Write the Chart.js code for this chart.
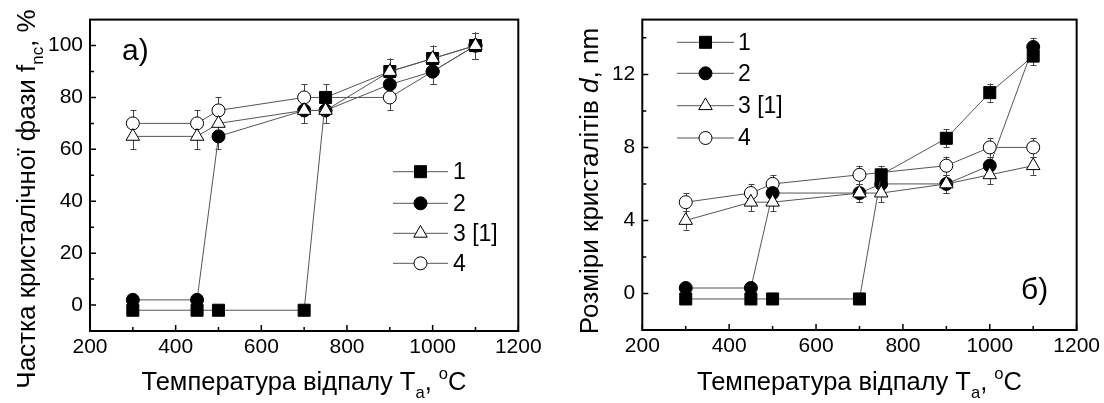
<!DOCTYPE html>
<html>
<head>
<meta charset="utf-8">
<script src="https://cdn.jsdelivr.net/npm/chart.js@4.4.0/dist/chart.umd.min.js"></script>
<style>
  html, body { margin: 0; padding: 0; background: #fff; }
  #wrap { position: relative; width: 1104px; height: 403px; overflow: hidden; }
  #boxA { position: absolute; left: 0; top: 0; width: 560px; height: 403px; }
  #boxB { position: absolute; left: 560px; top: 0; width: 544px; height: 403px; }
</style>
</head>
<body>
<div id="wrap">
  <div id="boxA"><canvas id="chartA" width="560" height="403"></canvas></div>
  <div id="boxB"><canvas id="chartB" width="544" height="403"></canvas></div>
</div>
<script>
// температури відпалу, спільні для всіх серій
const temps = [300, 450, 500, 700, 750, 900, 1000, 1100];
const seriesNames = ['1', '2', '3 [1]', '4'];

// а) частка кристалічної фази, %
const fracS1 = [-2, -2, -2, -2, 80, 90, 95, 100];
const fracS2 = [2, 2, 65, 75, 75, 85, 90, 100];
const fracS3 = [65, 65, 70, 75, 75, 90, 95, 100];
const fracS4 = [70, 70, 75, 80, null, 80, 90, 100];
const fracErr1 = [0, 0, 0, 0, 5, 5, 5, 5];
const fracErr2 = [0, 0, 5, 5, 5, 5, 5, 5];
const fracErr3 = [5, 5, 5, 5, 5, 5, 5, 5];
const fracErr4 = [5, 5, 5, 5, 0, 5, 5, 5];

// б) розміри кристалітів, nm
const sizeS1 = [-0.3, -0.3, -0.3, -0.3, 6.5, 8.5, 11, 13];
const sizeS2 = [0.3, 0.3, 5.5, 5.5, 6, 6, 7, 13.5];
const sizeS3 = [4, 5, 5, 5.5, 5.5, 6, 6.5, 7];
const sizeS4 = [5, 5.5, 6, 6.5, null, 7, 8, 8];
const sizeErr1 = [0, 0, 0, 0, 0.5, 0.5, 0.5, 0.5];
const sizeErr2 = [0, 0, 0.5, 0.5, 0.5, 0.5, 0.5, 0.5];
const sizeErr3 = [0.5, 0.5, 0.5, 0.5, 0.5, 0.5, 0.5, 0.5];
const sizeErr4 = [0.5, 0.5, 0.5, 0.5, 0, 0.5, 0.5, 0.5];

// мітки осей
const xTicks = [200, 400, 600, 800, 1000, 1200];
const xMinor = [300, 500, 700, 900, 1100];
const fracTicks = [0, 20, 40, 60, 80, 100];
const fracMinor = [10, 30, 50, 70, 90];
const sizeTicks = [0, 4, 8, 12];
const sizeMinor = [2, 6, 10, 14];

const FONT = '"Liberation Sans", Arial, sans-serif';
const LINE = '#555';

// вигляд маркерів для серій 1..4
const markers = [
  { style: 'rect', r: 8.5, fill: '#000', order: 1 },
  { style: 'circle', r: 6.5, fill: '#000', order: 2 },
  { style: 'triangle', r: 7.8, fill: '#fff', order: 0 },
  { style: 'circle', r: 6.5, fill: '#fff', order: 3 }
];

function drawMarker(ctx, m, x, y) {
  ctx.beginPath();
  if (m.style === 'rect') {
    const s = Math.SQRT1_2 * m.r;
    ctx.rect(x - s, y - s, 2 * s, 2 * s);
  } else if (m.style === 'triangle') {
    let a = 0;
    ctx.moveTo(x + Math.sin(a) * m.r, y - Math.cos(a) * m.r);
    a += 2 * Math.PI / 3;
    ctx.lineTo(x + Math.sin(a) * m.r, y - Math.cos(a) * m.r);
    a += 2 * Math.PI / 3;
    ctx.lineTo(x + Math.sin(a) * m.r, y - Math.cos(a) * m.r);
    ctx.closePath();
  } else {
    ctx.arc(x, y, m.r, 0, Math.PI * 2);
  }
  ctx.fillStyle = m.fill;
  ctx.fill();
  ctx.lineWidth = 1;
  ctx.strokeStyle = '#000';
  ctx.stroke();
}

function segFont(s, size) {
  const sz = (s.sub || s.sup) ? size * 0.65 : size;
  return (s.it ? 'italic ' : '') + sz + 'px ' + FONT;
}

// текст з індексами, x/y - центр по базовій лінії
function drawRich(ctx, segs, x, y, size, rot) {
  ctx.save();
  ctx.translate(x, y);
  if (rot) ctx.rotate(rot);
  let w = 0;
  segs.forEach(s => { ctx.font = segFont(s, size); w += ctx.measureText(s.t).width; });
  let cx = -w / 2;
  ctx.textAlign = 'left';
  ctx.textBaseline = 'alphabetic';
  ctx.fillStyle = '#000';
  segs.forEach(s => {
    ctx.font = segFont(s, size);
    const dy = s.sub ? size * 0.3 : (s.sup ? -size * 0.42 : 0);
    ctx.fillText(s.t, cx, dy);
    cx += ctx.measureText(s.t).width;
  });
  ctx.restore();
}

const paperPlugin = {
  id: 'paper',
  beforeDatasetsDraw(chart) {
    // похибки під маркерами
    const ctx = chart.ctx;
    const xs = chart.scales.x, ys = chart.scales.y;
    ctx.save();
    ctx.strokeStyle = '#444';
    ctx.lineWidth = 1;
    chart.data.datasets.forEach(ds => {
      ds.data.forEach((p, i) => {
        const e = ds.errs[i];
        if (p.y === null || !e) return;
        const px = Math.round(xs.getPixelForValue(p.x)) + 0.5;
        const y1 = ys.getPixelForValue(p.y - e);
        const y2 = ys.getPixelForValue(p.y + e);
        ctx.beginPath();
        ctx.moveTo(px, y1); ctx.lineTo(px, y2);
        ctx.moveTo(px - 3, Math.round(y1) + 0.5); ctx.lineTo(px + 3, Math.round(y1) + 0.5);
        ctx.moveTo(px - 3, Math.round(y2) + 0.5); ctx.lineTo(px + 3, Math.round(y2) + 0.5);
        ctx.stroke();
      });
    });
    ctx.restore();
  },
  afterDraw(chart, args, opts) {
    const ctx = chart.ctx;
    const a = chart.chartArea;
    const xs = chart.scales.x, ys = chart.scales.y;
    ctx.save();
    // рамка
    ctx.strokeStyle = '#000';
    ctx.lineWidth = 2;
    ctx.strokeRect(a.left, a.top, a.right - a.left, a.bottom - a.top);
    // внутрішні риски
    ctx.lineWidth = 1.5;
    ctx.beginPath();
    xTicks.forEach(v => { const p = xs.getPixelForValue(v); ctx.moveTo(p, a.bottom); ctx.lineTo(p, a.bottom - 6); });
    xMinor.forEach(v => { const p = xs.getPixelForValue(v); ctx.moveTo(p, a.bottom); ctx.lineTo(p, a.bottom - 4); });
    opts.yMajor.forEach(v => { const p = ys.getPixelForValue(v); ctx.moveTo(a.left, p); ctx.lineTo(a.left + 6, p); });
    opts.yMinor.forEach(v => { const p = ys.getPixelForValue(v); ctx.moveTo(a.left, p); ctx.lineTo(a.left + 4, p); });
    ctx.stroke();

    // легенда
    const lg = opts.legend;
    chart.data.datasets.forEach((ds, i) => {
      const y = lg.ys[i];
      ctx.strokeStyle = LINE;
      ctx.lineWidth = 1;
      ctx.beginPath();
      ctx.moveTo(lg.x0, y); ctx.lineTo(lg.x1, y);
      ctx.stroke();
      drawMarker(ctx, markers[i], (lg.x0 + lg.x1) / 2, y);
      ctx.fillStyle = '#000';
      ctx.font = '23px ' + FONT;
      ctx.textAlign = 'left';
      ctx.textBaseline = 'middle';
      ctx.fillText(ds.label, lg.xt, y + 1);
    });

    // позначка панелі
    ctx.fillStyle = '#000';
    ctx.font = opts.tag.size + 'px ' + FONT;
    ctx.textAlign = 'left';
    ctx.textBaseline = 'alphabetic';
    ctx.fillText(opts.tag.text, opts.tag.x, opts.tag.y);

    // назви осей
    drawRich(ctx, opts.xTitle.segs, opts.xTitle.x, opts.xTitle.y, 25.5, 0);
    drawRich(ctx, opts.yTitle.segs, opts.yTitle.x, opts.yTitle.y, 26, -Math.PI / 2);
    ctx.restore();
  }
};

const xTitleSegs = [
  { t: 'Температура відпалу T' }, { t: 'a', sub: true }, { t: ', ' }, { t: 'o', sup: true }, { t: 'C' }
];

function makePanel(id, series, errs, yMin, yMax, yMajor, yMinor, geo, extra) {
  const datasets = series.map((arr, k) => ({
    label: seriesNames[k],
    data: temps.map((t, i) => ({ x: t, y: arr[i] })),
    errs: errs[k],
    order: markers[k].order,
    showLine: true,
    spanGaps: true,
    borderColor: LINE,
    borderWidth: 1,
    pointStyle: markers[k].style,
    pointRadius: markers[k].r,
    pointBackgroundColor: markers[k].fill,
    pointBorderColor: '#000',
    pointBorderWidth: 1,
    clip: false
  }));
  const tickFont = { family: FONT, size: 21 };
  return new Chart(document.getElementById(id), {
    type: 'line',
    data: { datasets },
    plugins: [paperPlugin],
    options: {
      responsive: false,
      animation: false,
      devicePixelRatio: 1,
      events: [],
      layout: { padding: { left: 0, right: geo.right, top: geo.top, bottom: 0 } },
      plugins: {
        legend: { display: false },
        tooltip: { enabled: false },
        paper: Object.assign({ yMajor, yMinor }, extra)
      },
      scales: {
        x: {
          type: 'linear', min: 200, max: 1200,
          afterBuildTicks: s => { s.ticks = xTicks.map(v => ({ value: v })); },
          afterFit: s => { s.height = geo.xh; },
          grid: { display: false, drawTicks: false },
          border: { display: false },
          ticks: { padding: 4, color: '#000', font: tickFont, maxRotation: 0, autoSkip: false, callback: v => String(v) }
        },
        y: {
          type: 'linear', min: yMin, max: yMax,
          afterBuildTicks: s => { s.ticks = yMajor.map(v => ({ value: v })); },
          afterFit: s => { s.width = geo.yw; },
          grid: { display: false, drawTicks: false },
          border: { display: false },
          ticks: { padding: 7, color: '#000', font: tickFont, autoSkip: false, callback: v => String(v) }
        }
      }
    }
  });
}

makePanel('chartA',
  [fracS1, fracS2, fracS3, fracS4],
  [fracErr1, fracErr2, fracErr3, fracErr4],
  -10, 110, fracTicks, fracMinor,
  { yw: 90, xh: 72, right: 41.7, top: 12.7 },
  {
    legend: { x0: 393, x1: 448, xt: 453, ys: [171.7, 203.3, 233.3, 263.3] },
    tag: { text: 'a)', x: 122, y: 60, size: 30 },
    xTitle: { segs: xTitleSegs, x: 304, y: 390 },
    yTitle: { segs: [{ t: 'Частка кристалічної фази f' }, { t: 'nc', sub: true }, { t: ', %' }], x: 35, y: 199 }
  });

makePanel('chartB',
  [sizeS1, sizeS2, sizeS3, sizeS4],
  [sizeErr1, sizeErr2, sizeErr3, sizeErr4],
  -2, 15, sizeTicks, sizeMinor,
  { yw: 82.3, xh: 73, right: 27.3, top: 6.7 },
  {
    legend: { x0: 117, x1: 174, xt: 178, ys: [42.3, 73.3, 105.7, 138] },
    tag: { text: 'б)', x: 461, y: 299, size: 30 },
    xTitle: { segs: xTitleSegs, x: 299.5, y: 390 },
    yTitle: { segs: [{ t: 'Розміри кристалітів ' }, { t: 'd', it: true }, { t: ', nm' }], x: 38, y: 181 }
  });
</script>
</body>
</html>
